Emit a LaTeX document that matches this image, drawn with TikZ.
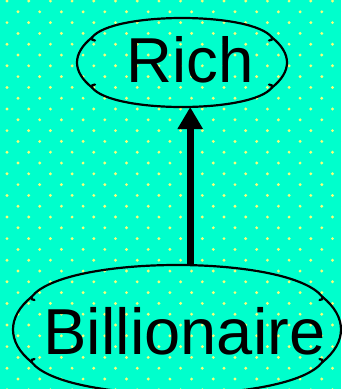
\documentclass[tikz,border=0pt]{standalone}
\usepackage{fontspec}
\setmainfont{Liberation Sans}
\usetikzlibrary{arrows.meta}
\definecolor{bgteal}{HTML}{00FFCC}
\definecolor{dotyel}{HTML}{F4FF7A}

% cloud outline: name, centre, half width, half height, cusp x, cusp y
\newcommand\cloudrim[6]{%
  \pgfmathsetmacro\ch{(#4-#6)/0.75}
  \pgfmathsetmacro\cu{#5-\ch/1.3}
  \pgfmathsetmacro\cw{(#3-#5)/0.75}
  \pgfmathsetmacro\cv{#6-0.8*\cw}
  \begin{scope}[shift={#2}]
  \foreach \s in {1,-1} {
    % top / bottom lobe with small curls at the cusps
    \draw[rim] ({-#5+3},{\s*(#6-3)}) .. controls ({-#5+1},{\s*(#6-3.5)}) and ({-#5-1},{\s*(#6-1.5)}) .. ({-#5},{\s*#6})
      .. controls ({-\cu},{\s*(#6+\ch)}) and ({\cu},{\s*(#6+\ch)}) .. ({#5},{\s*#6})
      .. controls ({#5+1},{\s*(#6-1.5)}) and ({#5-1},{\s*(#6-3.5)}) .. ({#5-3},{\s*(#6-3)});
    % side lobes
    \draw[rim] ({\s*#5},{#6}) .. controls ({\s*(#5+\cw)},{\cv}) and ({\s*(#5+\cw)},{-\cv}) .. ({\s*#5},{-#6});
  }
  \coordinate (#1-top) at (0,#4);
  \coordinate (#1-bot) at (0,-#4);
  \end{scope}}

\begin{document}
\begin{tikzpicture}[x=1pt, y=1pt,
  word/.style={inner sep=0pt},
  rim/.style={draw=black, line width=2.2pt, line cap=round},
  arr/.style={-{Triangle[length=22pt,width=24pt]}, draw=black, line width=7pt}]
\fill[bgteal] (0,0) rectangle (341,-389);
\useasboundingbox (0,0) rectangle (341,-389);
% dotted backdrop
\foreach \r in {0,...,36} {
  \pgfmathsetmacro\yy{-1-10.8*\r}
  \pgfmathsetmacro\xo{7+11*isodd(\r)}
  \foreach \c in {0,...,15} \fill[dotyel] (\xo+21.7*\c,\yy) circle (1.6pt);
}
\node[word, font=\fontsize{63.5}{64}\selectfont] (rich) at (190.2,-60) {Rich};
\node[word, font=\fontsize{65}{66}\selectfont] (bill) at (184.5,-331) {Billionaire};
\cloudrim{richc}{(182,-62.5)}{105}{44.5}{90}{25}
\cloudrim{billc}{(177,-329.5)}{164}{64.5}{145.5}{32.5}
\draw[arr] (rich.south |- billc-top) -- (rich.south |- richc-bot);
\end{tikzpicture}
\end{document}
